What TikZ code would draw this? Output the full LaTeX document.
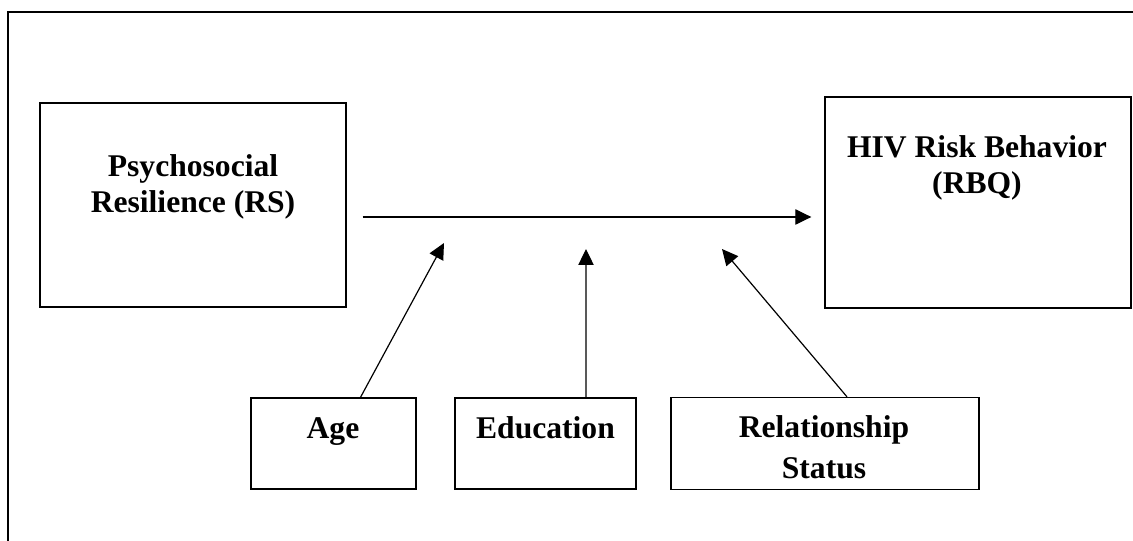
\documentclass[tikz,border=0pt]{standalone}
\usepackage{fontspec}
\setmainfont{Liberation Serif}
\usetikzlibrary{arrows.meta}

\begin{document}
\begin{tikzpicture}[x=0.75pt, y=-0.75pt, box/.style = {draw, line width=1pt, inner sep=0pt}, lbl/.style = {align=center, font=\fontsize{23.7}{27}\selectfont\bfseries}, arr/.style = {line width=0.9pt, -{Triangle[length=12pt,width=11.5pt]}}]
\useasboundingbox (0,0) rectangle (1133,541);
\draw[line width=1.6pt] (8,541) -- (8,12) -- (1133,12);
\node[box, minimum width=229.5pt, minimum height=153pt] (prs) at (193,205) {};
\node[box, minimum width=229.5pt, minimum height=158.25pt] (hiv) at (978,202.5) {};
\node[box, minimum width=123.75pt, minimum height=68.25pt] (age) at (333.5,443.5) {};
\node[box, minimum width=135.75pt, minimum height=68.25pt] (edu) at (545.5,443.5) {};
\node[box, minimum width=231pt, minimum height=69pt] (rel) at (825,443.5) {};
\node[lbl] (prsT) at (193,187) {Psychosocial\\Resilience (RS)};
\node[lbl] (hivT) at (977,168) {HIV Risk Behavior\\(RBQ)};
\node[lbl] (ageT) at (333,432) {Age};
\node[lbl] (eduT) at (545.5,428) {Education};
\node[lbl] (relT) at (824,447.5) {Relationship\\[3.75pt]Status};
\coordinate (tipA) at (444,243);
\coordinate (tipE) at (586,249);
\coordinate (tipR) at (722,249);
\draw[arr, shorten <=12pt, shorten >=9.75pt] ([yshift=-9pt]prs.east) -- ([yshift=-9pt]prs.east -| hiv.west);
\draw[arr] ([xshift=20.25pt]age.north) -- (tipA);
\draw[arr] ([xshift=30.4pt]edu.north) -- (tipE);
\draw[arr] ([xshift=16.5pt]rel.north) -- (tipR);
\end{tikzpicture}
\end{document}
